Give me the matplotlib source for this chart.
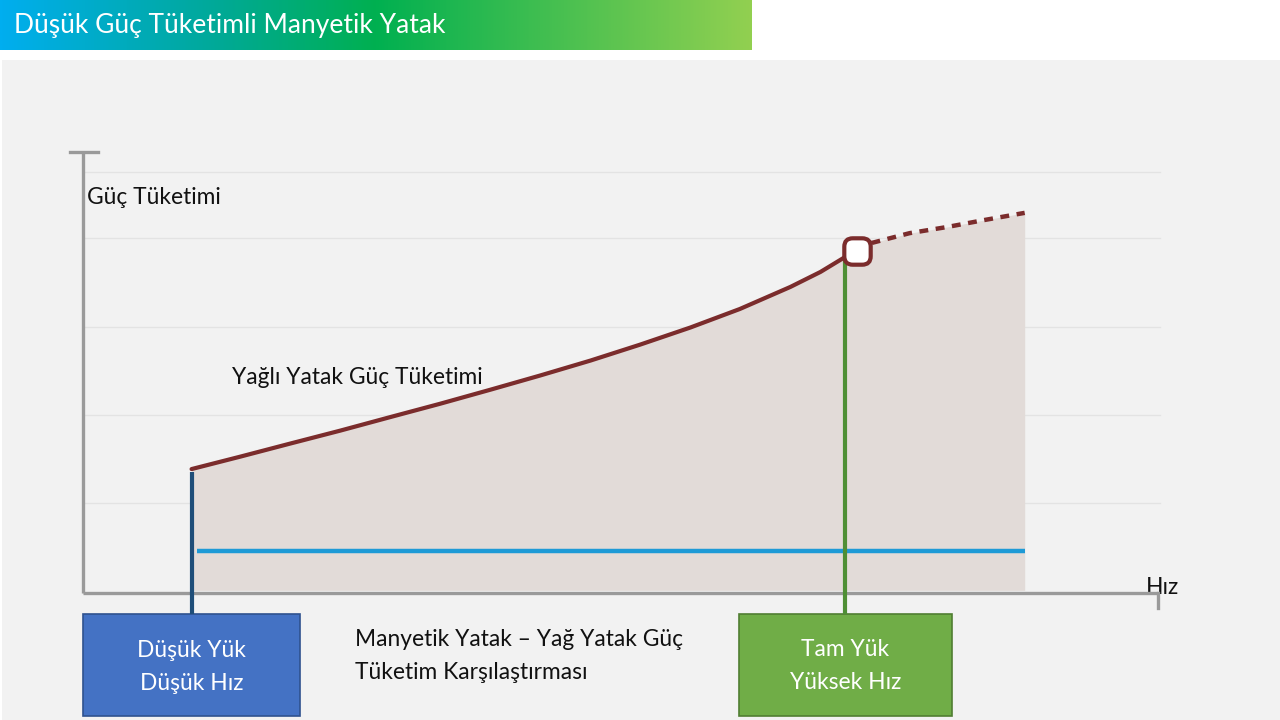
import numpy as np
import matplotlib
matplotlib.use("Agg")
import matplotlib.pyplot as plt
from matplotlib.colors import LinearSegmentedColormap
from matplotlib.patches import Rectangle, BoxStyle

plt.rcParams['font.family'] = ['Lato', 'DejaVu Sans']

# ---- data (speed %, power %) ----
oil_speed = [10.1, 14.6, 19.3, 23.9, 28.6, 33.2, 37.9, 42.5, 47.2, 51.8, 56.5, 61.1, 65.8, 68.6, 70.9, 72.0]
oil_power = [28.1, 30.9, 33.9, 36.8, 39.9, 42.9, 46.1, 49.3, 52.7, 56.3, 60.2, 64.4, 69.4, 72.8, 76.2, 77.6]
oil_ext_speed = [72.0, 73.4, 76.9, 80.4, 83.9, 87.6]
oil_ext_power = [77.6, 79.4, 81.6, 83.0, 84.6, 86.2]
mag_speed = [10.6, 87.6]
mag_power = [9.5, 9.5]
limit_speed = 72.0
limit_power = 77.6
low_speed = 10.1
low_top = 27.4
full_speed = 70.9
full_top = 76.0
grid_levels = [20.4, 40.4, 60.3, 80.5, 95.5]

title = "Düşük Güç Tüketimli Manyetik Yatak"
y_label = "Güç Tüketimi"
x_label = "Hız"
oil_label = "Yağlı Yatak Güç Tüketimi"
mag_label = "Manyetik Yataklı Güç Tüketimi"
limit_label = "Yağlı yatak Hız\nüst limiti"
low_box = "Düşük Yük\nDüşük Hız"
full_box = "Tam Yük\nYüksek Hız"
caption = "Manyetik Yatak – Yağ Yatak Güç\nTüketim Karşılaştırması"

FS = 16.4
LS = 1.68
W, H = 1280, 720
fig = plt.figure(figsize=(12.8, 7.2), dpi=100)
fig.patch.set_facecolor('white')

# background axes in pixel coordinates
bg = fig.add_axes([0, 0, 1, 1])
bg.set_xlim(0, W)
bg.set_ylim(H, 0)
bg.axis('off')

# gray panel
bg.add_patch(Rectangle((2, 60), 1278, 660, facecolor='#f2f2f2', edgecolor='none', zorder=0))

# banner gradient
cmap = LinearSegmentedColormap.from_list('ban', [(0, '#00aeef'), (0.28, '#00a99a'), (0.5, '#00b050'), (1.0, '#92d050')])
grad = np.linspace(0, 1, 512).reshape(1, -1)
bg.imshow(grad, cmap=cmap, extent=(0, 752, 50, 0), aspect='auto', zorder=1)
bg.text(14, 25, title, color='white', fontsize=19, va='center', ha='left', zorder=2)

# chart axes: x 0..100 -> px 83..1158, y 0..100 -> py 593..152
x0, x1, y0, y1 = 83, 1158, 593, 152
ax = fig.add_axes([x0 / W, 1 - y0 / H, (x1 - x0) / W, (y0 - y1) / H])
ax.set_xlim(0, 100)
ax.set_ylim(0, 100)
ax.patch.set_alpha(0)
for s in ax.spines.values():
    s.set_visible(False)
ax.set_xticks([])
ax.set_yticks([])

for g in grid_levels:
    ax.plot([0, 100.2], [g, g], color='#e3e3e3', lw=1.0, zorder=1, clip_on=False)

# fill under oil curve
fx = oil_speed + oil_ext_speed[1:]
fy = oil_power + oil_ext_power[1:]
ax.fill_between(fx, fy, 0.6, color='#e2dbd8', lw=0, zorder=2)

# axes lines
ax.plot([0, 0], [0, 100], color='#9a9a9a', lw=2.4, zorder=3, clip_on=False, solid_capstyle='butt')
ax.plot([-1.2, 1.4], [100, 100], color='#9a9a9a', lw=2.4, zorder=3, clip_on=False)
ax.plot([0, 100], [0, 0], color='#9a9a9a', lw=2.4, zorder=3, clip_on=False, solid_capstyle='butt')
ax.plot([100, 100], [0, -3.4], color='#9a9a9a', lw=2.4, zorder=3, clip_on=False)

# magnetic line
ax.plot(mag_speed, mag_power, color='#1e9ad6', lw=3.2, zorder=4, solid_capstyle='butt')

# oil curve
ax.plot(oil_speed, oil_power, color='#7b2c2c', lw=3.0, zorder=5, solid_capstyle='round', solid_joinstyle='round')
ax.plot(oil_ext_speed, oil_ext_power, color='#7b2c2c', lw=3.2, ls=(0, (2.0, 1.7)), zorder=5)

# rounded square marker
rpath = BoxStyle.Round(pad=0, rounding_size=0.32)(-0.5, -0.5, 1.0, 1.0, 1.0)
ax.plot([limit_speed], [limit_power], marker=rpath, ms=19, mfc='white', mec='#7b2c2c', mew=3.0, zorder=6)

# vertical connector lines
ax.plot([low_speed, low_speed], [low_top, -4.8], color='#1f4e79', lw=3, zorder=4, clip_on=False, solid_capstyle='butt')
ax.plot([full_speed, full_speed], [full_top, -4.8], color='#4f8f35', lw=3, zorder=4, clip_on=False, solid_capstyle='butt')

# boxes
bg.add_patch(Rectangle((83, 614), 217, 102, facecolor='#4472c4', edgecolor='#2f528f', lw=1.2, zorder=3))
bg.text(191.5, 667, low_box, color='white', fontsize=FS, ha='center', va='center', linespacing=LS, zorder=4)
bg.add_patch(Rectangle((739, 614), 213, 102, facecolor='#70ad47', edgecolor='#507e32', lw=1.2, zorder=3))
bg.text(845.5, 666, full_box, color='white', fontsize=FS, ha='center', va='center', linespacing=LS, zorder=4)

# texts
bg.text(355, 656, caption, color='#111111', fontsize=FS, ha='left', va='center', linespacing=LS, zorder=4)
bg.text(87, 197, y_label, color='#111111', fontsize=FS, ha='left', va='center', zorder=4)
bg.text(1146, 588, x_label, color='#111111', fontsize=FS, ha='left', va='center', zorder=4)
bg.text(232, 378, oil_label, color='#111111', fontsize=FS, ha='left', va='center', zorder=4)
bg.text(552, 517, mag_label, color='#111111', fontsize=FS, ha='center', va='center', zorder=4)
bg.text(935, 298, limit_label, color='#111111', fontsize=FS, ha='center', va='center', linespacing=LS, zorder=4)

fig.savefig('out.png', dpi=100)
